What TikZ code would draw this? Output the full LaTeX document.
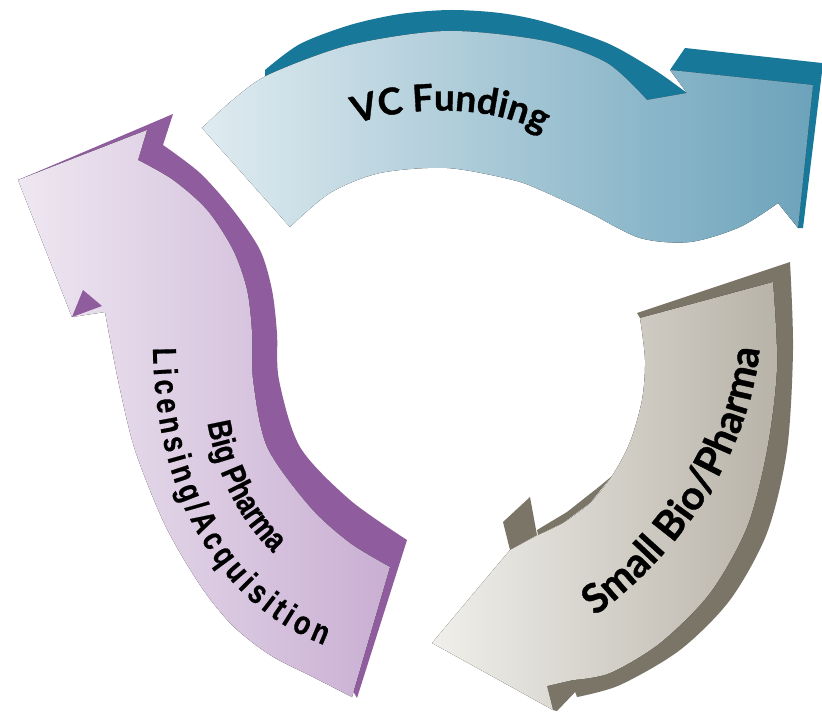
\documentclass[tikz,border=0pt]{standalone}
\usepackage{fontspec}
\usepackage{tikz}
\usetikzlibrary{decorations.text}
\newfontfamily\gillfont{Lato}[BoldFeatures={FakeBold=1}]
\newfontfamily\narrowfont{Liberation Sans}[FakeStretch=0.8, BoldFeatures={FakeBold=0.6}]

\definecolor{tealdark}{HTML}{17789A}
\definecolor{bluelight}{HTML}{DFEBF0}
\definecolor{bluemid}{HTML}{6CA3BB}
\definecolor{plumdark}{HTML}{8F5C9E}
\definecolor{plumlight}{HTML}{EEE7F1}
\definecolor{plummid}{HTML}{C9AFD3}
\definecolor{stonedark}{HTML}{7B7567}
\definecolor{stonelight}{HTML}{F0EFEB}
\definecolor{stonemid}{HTML}{B8B3A8}

\begin{document}
\begin{tikzpicture}[x=0.02cm, y=-0.02cm,
    blueface/.style={left color=bluelight, right color=bluemid},
    plumface/.style={left color=plumlight, right color=plummid},
    stoneface/.style={left color=stonelight, right color=stonemid},
    curvetext/.style={decorate, decoration={text along path, text align=center, text={#1}}},
    fittext/.style={decorate, decoration={text along path, text align=fit to path, text={#1}}}
]
    \fill[white] (0,0) rectangle (822,714);
    \useasboundingbox (0,0) rectangle (822,714);

    % VC funding arrow (top)
    \fill[tealdark] (265,70) -- plot[smooth] coordinates {(265,70) (300,44) (350,25) (400,14) (450,10) (500,13) (545,22) (607,43) (650,67) (672,82)}
        -- (687,93) -- (647,100) -- plot[smooth] coordinates {(647,100) (607,63) (545,41) (447,31) (350,45) (280,70) (265,78)} -- cycle;
    \fill[tealdark] (670,70) -- (685,48) -- (822,63) -- (822,72) -- (803,228) -- (798,228) -- (813,85) -- cycle;
    \fill[blueface] (202,128) -- plot[smooth] coordinates {(202,128) (235,98) (270,74) (350,45) (447,31) (545,41) (607,63) (647,100)}
        -- (687,93) -- (670,70) -- (813,85) -- (798,228) -- (778,203)
        -- plot[smooth] coordinates {(778,203) (740,227) (690,242) (640,238) (590,213) (545,192) (513,180) (447,168) (380,173) (330,193) (290,227)} -- cycle;
    \path[curvetext={|\gillfont\bfseries\fontsize{21}{21}\selectfont|VC Funding}]
        (345,128) .. controls (400,104) and (500,102) .. (552,139);

    % small bio/pharma arrow (right)
    \fill[stonedark] (640,318) -- (637,313) -- (790,262)
        -- plot[smooth] coordinates {(790,262) (793,350) (787,450) (767,533) (730,600) (680,650) (620,685) (577,697)}
        -- (560,650) -- (700,450) -- cycle;
    \fill[stonedark] (503,522) -- (530,497) -- (537,535) -- (510,550) -- cycle;
    \fill[stonedark] (537,530) -- (567,512) -- (600,486) -- (612,476) -- (590,503) -- (563,523) -- (538,535) -- cycle;
    \fill[stonedark] (547,686) -- (573,679) -- (579,688) -- (557,711) -- (553,710) -- cycle;
    \fill[stoneface] (640,318) -- (773,282)
        -- plot[smooth] coordinates {(773,282) (777,367) (767,450) (747,527) (710,593) (660,643) (610,673) (573,680)}
        -- (547,686) -- (553,710) -- (432,643) -- (510,550) -- (538,535)
        -- plot[smooth] coordinates {(538,535) (563,523) (590,503) (612,476) (630,442) (642,400) (645,360) (640,318)} -- cycle;
    \path[curvetext={|\gillfont\bfseries\fontsize{23}{23}\selectfont|Small Bio/Pharma}]
        (592,618) .. controls (680,555) and (750,455) .. (760,345);

    % big pharma arrow (left)
    \fill[plumdark] (18,180) -- (173,114) -- (163,145)
        -- plot[smooth] coordinates {(163,145) (200,173) (233,210) (260,250) (272,290) (277,333) (279,380) (300,447) (350,500) (407,540)}
        -- (357,698) -- (300,600) -- (200,400) -- (100,250) -- cycle;
    \fill[plumface] (18,180) -- (147,130) -- (138,160)
        -- plot[smooth] coordinates {(138,160) (173,180) (207,210) (233,250) (247,290) (252,333) (253,380) (267,447) (310,507) (350,543) (390,567)}
        -- (352,697)
        -- plot[smooth] coordinates {(352,697) (313,677) (270,655) (232,625) (200,585) (165,525) (135,450) (118,380) (105,312)}
        -- (72,317) -- cycle;
    \fill[plumdark] (72,317) -- (83,290) -- (102,306) -- cycle;
    \path[curvetext={|\narrowfont\bfseries\fontsize{19}{19}\selectfont|Big Pharma}]
        (205,405) .. controls (212,470) and (240,528) .. (287,565);
    \path[fittext={|\narrowfont\bfseries\fontsize{19}{19}\selectfont|Licensing/Acquisition}]
        (153,348) .. controls (154,470) and (201,597) .. (324,645);
\end{tikzpicture}
\end{document}
